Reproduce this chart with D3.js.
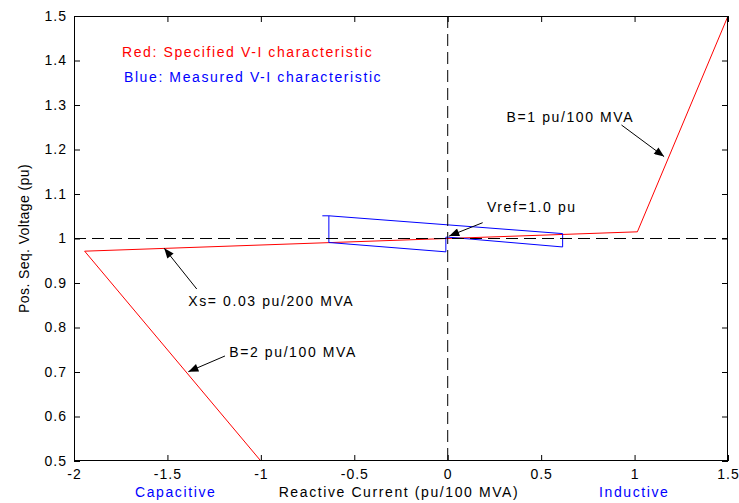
<!DOCTYPE html>
<html>
<head>
<meta charset="utf-8">
<script src="https://cdn.jsdelivr.net/npm/d3@7"></script>
<style>
  html, body { margin: 0; padding: 0; background: #fff; }
  svg { display: block; }
  text { font-family: "Liberation Sans", Arial, sans-serif; }
</style>
</head>
<body>
<svg id="chart" width="739" height="503"></svg>
<script>
// Axis ticks
const xTickValues = [-2, -1.5, -1, -0.5, 0, 0.5, 1, 1.5];
const xTickLabels = ["-2", "-1.5", "-1", "-0.5", "0", "0.5", "1", "1.5"];
const yTickValues = [0.5, 0.6, 0.7, 0.8, 0.9, 1.0, 1.1, 1.2, 1.3, 1.4, 1.5];
const yTickLabels = ["0.5", "0.6", "0.7", "0.8", "0.9", "1", "1.1", "1.2", "1.3", "1.4", "1.5"];

// Specified V-I characteristic (red): capacitive limit, droop slope, inductive limit
const specCurrent = [-1.0, -1.943, 1.015, 1.5];
const specVoltage = [0.5, 0.9715, 1.015, 1.5];

// Measured V-I characteristic (blue), two traced branches
const measUpperCurrent = [-0.671, -0.636, 0.615, 0.615, 0.003];
const measUpperVoltage = [1.051, 1.051, 1.011, 0.981, 1.003];
const measLowerCurrent = [-0.636, -0.636, -0.010, -0.010, 0.003];
const measLowerVoltage = [1.051, 0.991, 0.970, 1.003, 1.003];

// Reference lines
const refVoltage = 1.0;
const refCurrent = 0.0;

// Annotations: text anchor point and arrow tail/head, in data units
const notes = [
  { text: "Red: Specified V-I characteristic", color: "#ff0000", x: -1.743, y: 1.408 },
  { text: "Blue: Measured V-I characteristic", color: "#0000ff", x: -1.7325, y: 1.3506 },
  { text: "B=1 pu/100 MVA", color: "#000", x: 0.315, y: 1.2625 },
  { text: "Vref=1.0 pu", color: "#000", x: 0.2097, y: 1.0602 },
  { text: "Xs= 0.03 pu/200 MVA", color: "#000", x: -1.3884, y: 0.849 },
  { text: "B=2 pu/100 MVA", color: "#000", x: -1.169, y: 0.733 }
];
const arrows = [
  { x1: 0.930, y1: 1.255, x2: 1.158, y2: 1.184 },
  { x1: 0.187, y1: 1.0355, x2: 0.008, y2: 1.0056 },
  { x1: -1.343, y1: 0.8865, x2: -1.517, y2: 0.978 },
  { x1: -1.192, y1: 0.736, x2: -1.388, y2: 0.7007 }
];

const margin = { left: 74, top: 16, right: 11, bottom: 42 };
const W = 739, H = 503;
const svg = d3.select("#chart");
const plotW = W - margin.left - margin.right;
const plotH = H - margin.top - margin.bottom;

const x = d3.scaleLinear().domain([-2, 1.5]).range([margin.left, margin.left + plotW]);
const y = d3.scaleLinear().domain([0.5, 1.5]).range([margin.top + plotH, margin.top]);

const fontSize = 14;
const spacing = "1.6px";
const tickSpacing = "1px";

svg.append("rect").attr("width", W).attr("height", H).attr("fill", "#fff");

// Clip marks to the plot box
svg.append("defs").append("clipPath").attr("id", "plotClip")
  .append("rect")
  .attr("x", margin.left).attr("y", margin.top)
  .attr("width", plotW).attr("height", plotH);

const marker = svg.select("defs").append("marker")
  .attr("id", "arrowHead")
  .attr("markerUnits", "userSpaceOnUse")
  .attr("viewBox", "0 0 10 8")
  .attr("refX", 10).attr("refY", 4)
  .attr("markerWidth", 11).attr("markerHeight", 8)
  .attr("orient", "auto");
marker.append("path").attr("d", "M0,0 L10,4 L0,8 Z").attr("fill", "#000");

const plot = svg.append("g").attr("clip-path", "url(#plotClip)");

const line = d3.line().x(d => x(d[0])).y(d => y(d[1]));
const zipPts = (a, b) => a.map((v, i) => [v, b[i]]);

plot.append("path")
  .datum(zipPts(specCurrent, specVoltage))
  .attr("d", line).attr("fill", "none").attr("stroke", "#ff0000").attr("stroke-width", 1);

plot.append("path")
  .datum(zipPts(measUpperCurrent, measUpperVoltage))
  .attr("d", line).attr("fill", "none").attr("stroke", "#0000ff").attr("stroke-width", 1);
plot.append("path")
  .datum(zipPts(measLowerCurrent, measLowerVoltage))
  .attr("d", line).attr("fill", "none").attr("stroke", "#0000ff").attr("stroke-width", 1);

// Dashed reference lines
plot.append("line")
  .attr("x1", x(-2)).attr("x2", x(1.5))
  .attr("y1", y(refVoltage)).attr("y2", y(refVoltage))
  .attr("stroke", "#000").attr("stroke-width", 1).attr("stroke-dasharray", "12,6");
plot.append("line")
  .attr("x1", x(refCurrent)).attr("x2", x(refCurrent))
  .attr("y1", y(1.5)).attr("y2", y(0.5))
  .attr("stroke", "#000").attr("stroke-width", 1).attr("stroke-dasharray", "12,6");

// Axes with inward ticks on all four sides
const tick = 6;
const gx = svg.append("g").attr("transform", `translate(0,${margin.top + plotH})`)
  .call(d3.axisBottom(x).tickValues(xTickValues)
    .tickFormat((d, i) => xTickLabels[i]).tickSizeInner(-tick).tickSizeOuter(0).tickPadding(8.5));
const gxTop = svg.append("g").attr("transform", `translate(0,${margin.top})`)
  .call(d3.axisTop(x).tickValues(xTickValues).tickFormat("").tickSizeInner(-tick).tickSizeOuter(0));
const gy = svg.append("g").attr("transform", `translate(${margin.left},0)`)
  .call(d3.axisLeft(y).tickValues(yTickValues)
    .tickFormat((d, i) => yTickLabels[i]).tickSizeInner(-tick).tickSizeOuter(0).tickPadding(7));
const gyRight = svg.append("g").attr("transform", `translate(${margin.left + plotW},0)`)
  .call(d3.axisRight(y).tickValues(yTickValues).tickFormat("").tickSizeInner(-tick).tickSizeOuter(0));

[gx, gxTop, gy, gyRight].forEach(g => {
  g.select(".domain").remove();
  g.selectAll(".tick line").attr("stroke", "#000");
  g.selectAll("text")
    .attr("font-family", "Liberation Sans, Arial, sans-serif")
    .attr("font-size", fontSize)
    .attr("letter-spacing", tickSpacing)
    .attr("fill", "#000");
});

svg.append("rect")
  .attr("x", margin.left + 0.5).attr("y", margin.top + 0.5)
  .attr("width", plotW - 1).attr("height", plotH - 1)
  .attr("fill", "none").attr("stroke", "#000").attr("stroke-width", 1);

// Axis titles
svg.append("text")
  .attr("x", 399).attr("y", 497)
  .attr("text-anchor", "middle")
  .attr("font-size", fontSize).attr("letter-spacing", spacing)
  .text("Reactive Current (pu/100 MVA)");
svg.append("text")
  .attr("x", 135).attr("y", 497)
  .attr("font-size", fontSize).attr("letter-spacing", spacing).attr("fill", "#0000ff")
  .text("Capacitive");
svg.append("text")
  .attr("x", 599).attr("y", 497)
  .attr("font-size", fontSize).attr("letter-spacing", spacing).attr("fill", "#0000ff")
  .text("Inductive");
svg.append("text")
  .attr("transform", `translate(29,${margin.top + plotH / 2}) rotate(-90)`)
  .attr("text-anchor", "middle")
  .attr("font-size", fontSize).attr("letter-spacing", "0.4px")
  .text("Pos. Seq. Voltage (pu)");

// Annotation text and arrows
svg.selectAll("text.note").data(notes).join("text")
  .attr("class", "note")
  .attr("x", d => x(d.x)).attr("y", d => y(d.y))
  .attr("font-size", fontSize).attr("letter-spacing", spacing)
  .attr("fill", d => d.color)
  .text(d => d.text);

svg.selectAll("line.arrow").data(arrows).join("line")
  .attr("class", "arrow")
  .attr("x1", d => x(d.x1)).attr("y1", d => y(d.y1))
  .attr("x2", d => x(d.x2)).attr("y2", d => y(d.y2))
  .attr("stroke", "#000").attr("stroke-width", 1)
  .attr("marker-end", "url(#arrowHead)");
</script>
</body>
</html>
